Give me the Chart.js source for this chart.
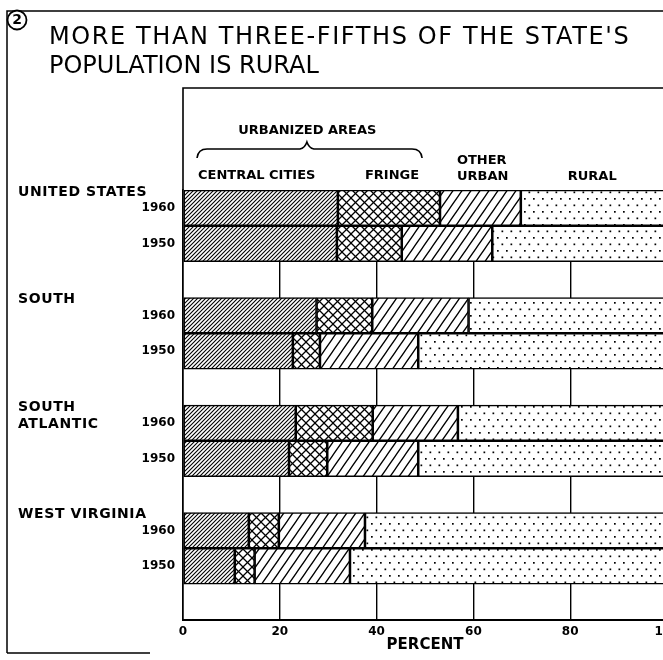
<!DOCTYPE html>
<html>
<head>
<meta charset="utf-8">
<script src="https://cdn.jsdelivr.net/npm/chart.js"></script>
<style>
  html, body { margin: 0; padding: 0; background: #fff; overflow: hidden; }
  #wrap { position: relative; width: 700px; height: 660px; }
</style>
</head>
<body>
<div id="wrap"><canvas id="c" width="700" height="660"></canvas></div>
<script>
// ---- data (percent of population) ----
const regions = ['UNITED STATES', 'SOUTH', 'SOUTH\nATLANTIC', 'WEST VIRGINIA'];
const years = ['1960', '1950'];
const centralCities1960 = [32.0, 27.6, 23.3, 13.6];
const centralCities1950 = [31.8, 22.7, 21.9, 10.7];
const fringe1960 = [21.1, 11.5, 15.9, 6.2];
const fringe1950 = [13.4, 5.6, 7.9, 4.1];
const otherUrban1960 = [16.7, 19.9, 17.6, 17.8];
const otherUrban1950 = [18.7, 20.3, 18.8, 19.7];
const rural1960 = [30.2, 41.0, 43.2, 62.4];
const rural1950 = [36.1, 51.4, 51.4, 65.5];
const xTickValues = [0, 20, 40, 60, 80, 100];

// rows: for each region 1960, 1950, blank spacer
const rowLabels = [];
regions.forEach(() => { rowLabels.push(years[0], years[1], ''); });
function rows(a1960, a1950) {
  const out = [];
  a1960.forEach((v, i) => { out.push(v, a1950[i], null); });
  return out;
}

// ---- patterns ----
function makeTile(w, h, draw) {
  const c = document.createElement('canvas');
  c.width = w; c.height = h;
  const g = c.getContext('2d');
  g.fillStyle = '#fff'; g.fillRect(0, 0, w, h);
  g.strokeStyle = '#000'; g.fillStyle = '#000';
  draw(g, w, h);
  return g.createPattern(c, 'repeat');
}
function slashLines(g, w, h) { // "/" lines
  g.beginPath();
  for (let k = -1; k <= 1; k++) {
    g.moveTo(k * w - w, 2 * h); g.lineTo(k * w + 2 * w, -h);
  }
  g.stroke();
}
function backLines(g, w, h) { // "\" lines
  g.beginPath();
  for (let k = -1; k <= 1; k++) {
    g.moveTo(k * w - w, -h); g.lineTo(k * w + 2 * w, 2 * h);
  }
  g.stroke();
}
const patCentral = makeTile(4, 4, (g, w, h) => { g.lineWidth = 1.1; slashLines(g, w, h); });
const patFringe = makeTile(9, 9, (g, w, h) => { g.lineWidth = 1.3; slashLines(g, w, h); backLines(g, w, h); });
const patOther = makeTile(9, 13, (g, w, h) => { g.lineWidth = 1.3; slashLines(g, w, h); });
const patRural = makeTile(9, 13, (g, w, h) => {
  g.fillRect(2, 3, 1.7, 1.7);
  g.fillRect(6.5, 9.5, 1.7, 1.7);
});

const FONT = '"DejaVu Sans", "Liberation Sans", sans-serif';

const decorPlugin = {
  id: 'decor',
  afterDraw(chart) {
    const ctx = chart.ctx;
    const x = chart.scales.x, y = chart.scales.y;
    const area = chart.chartArea;
    ctx.save();
    ctx.strokeStyle = '#000';
    ctx.fillStyle = '#000';
    // outer frame
    ctx.lineWidth = 1.5;
    ctx.beginPath();
    ctx.moveTo(7, 653); ctx.lineTo(7, 11); ctx.lineTo(700, 11);
    ctx.moveTo(7, 653); ctx.lineTo(150, 653);
    ctx.stroke();
    // plot frame above chart area
    ctx.lineWidth = 1.6;
    ctx.beginPath();
    ctx.moveTo(area.left, area.top); ctx.lineTo(area.left, 88); ctx.lineTo(700, 88);
    ctx.stroke();

    // title
    ctx.fillStyle = '#fff';
    ctx.beginPath(); ctx.arc(17, 20, 10, 0, Math.PI * 2); ctx.fill();
    ctx.fillStyle = '#000';
    ctx.lineWidth = 1.8;
    ctx.beginPath(); ctx.arc(17, 20, 9.5, 0, Math.PI * 2); ctx.stroke();
    ctx.font = 'bold 14px ' + FONT;
    ctx.textAlign = 'center'; ctx.textBaseline = 'middle';
    ctx.fillText('2', 17, 20.5);
    ctx.textAlign = 'left'; ctx.textBaseline = 'alphabetic';
    ctx.font = '24px ' + FONT;
    ctx.letterSpacing = '1.6px';
    ctx.fillText("MORE THAN THREE-FIFTHS OF THE STATE'S", 49, 44);
    ctx.letterSpacing = '0px';
    ctx.fillText('POPULATION IS RURAL', 49, 73);

    // column headers (positioned on the percent scale)
    ctx.font = 'bold 13px ' + FONT;
    ctx.textBaseline = 'middle';
    ctx.fillText('URBANIZED AREAS', x.getPixelForValue(11.4), 131);
    ctx.fillText('CENTRAL CITIES', x.getPixelForValue(3.1), 176);
    ctx.fillText('FRINGE', x.getPixelForValue(37.6), 176);
    ctx.fillText('OTHER', x.getPixelForValue(56.6), 161);
    ctx.fillText('URBAN', x.getPixelForValue(56.6), 177);
    ctx.fillText('RURAL', x.getPixelForValue(79.5), 177);
    // brace
    const bl = x.getPixelForValue(2.9), br = x.getPixelForValue(49.4), bm = x.getPixelForValue(25.6);
    ctx.lineWidth = 1.6;
    ctx.beginPath();
    ctx.moveTo(bl, 158);
    ctx.quadraticCurveTo(bl + 1, 149, bl + 10, 149);
    ctx.lineTo(bm - 7, 149);
    ctx.quadraticCurveTo(bm - 2, 148, bm, 142);
    ctx.quadraticCurveTo(bm + 2, 148, bm + 7, 149);
    ctx.lineTo(br - 10, 149);
    ctx.quadraticCurveTo(br - 1, 149, br, 158);
    ctx.stroke();

    // region names, aligned to the first row of each group
    ctx.font = 'bold 14px ' + FONT;
    ctx.letterSpacing = '0.6px';
    const half = (y.getPixelForValue(1) - y.getPixelForValue(0)) / 2;
    regions.forEach((name, i) => {
      const top = y.getPixelForValue(i * 3) - half;
      name.split('\n').forEach((line, j) => {
        ctx.fillText(line, 18, top + 2 + j * 17);
      });
    });
    ctx.letterSpacing = '0px';
    ctx.restore();
  }
};

const common = { borderColor: '#000', borderWidth: 1.6, borderSkipped: false, barPercentage: 1, categoryPercentage: 1 };

new Chart(document.getElementById('c'), {
  type: 'bar',
  data: {
    labels: rowLabels,
    datasets: [
      Object.assign({ label: 'Central cities', data: rows(centralCities1960, centralCities1950), backgroundColor: patCentral }, common),
      Object.assign({ label: 'Fringe', data: rows(fringe1960, fringe1950), backgroundColor: patFringe }, common),
      Object.assign({ label: 'Other urban', data: rows(otherUrban1960, otherUrban1950), backgroundColor: patOther }, common),
      Object.assign({ label: 'Rural', data: rows(rural1960, rural1950), backgroundColor: patRural }, common)
    ]
  },
  options: {
    indexAxis: 'y',
    responsive: false,
    animation: false,
    devicePixelRatio: 1,
    layout: { padding: { top: 190, right: 33, left: 0, bottom: 0 } },
    plugins: { legend: { display: false }, tooltip: { enabled: false }, title: { display: false } },
    scales: {
      x: {
        stacked: true, min: 0, max: 100,
        afterBuildTicks(scale) { scale.ticks = xTickValues.map(v => ({ value: v })); },
        afterFit(scale) { scale.height = 40; },
        ticks: { color: '#000', font: { family: FONT, size: 12, weight: 'bold' }, padding: 5, maxRotation: 0 },
        grid: { color: '#000', lineWidth: 1.4, drawTicks: false },
        border: { display: true, color: '#000', width: 2 },
        title: { display: true, text: 'PERCENT', color: '#000', font: { family: FONT, size: 15, weight: 'bold' }, padding: { top: 0, bottom: 6 } }
      },
      y: {
        stacked: true,
        afterFit(scale) { scale.width = 183; },
        ticks: { color: '#000', font: { family: FONT, size: 12, weight: 'bold' }, padding: 8, autoSkip: false },
        grid: { display: false, drawTicks: false },
        border: { display: true, color: '#000', width: 1.6 }
      }
    }
  },
  plugins: [decorPlugin]
});
</script>
</body>
</html>
